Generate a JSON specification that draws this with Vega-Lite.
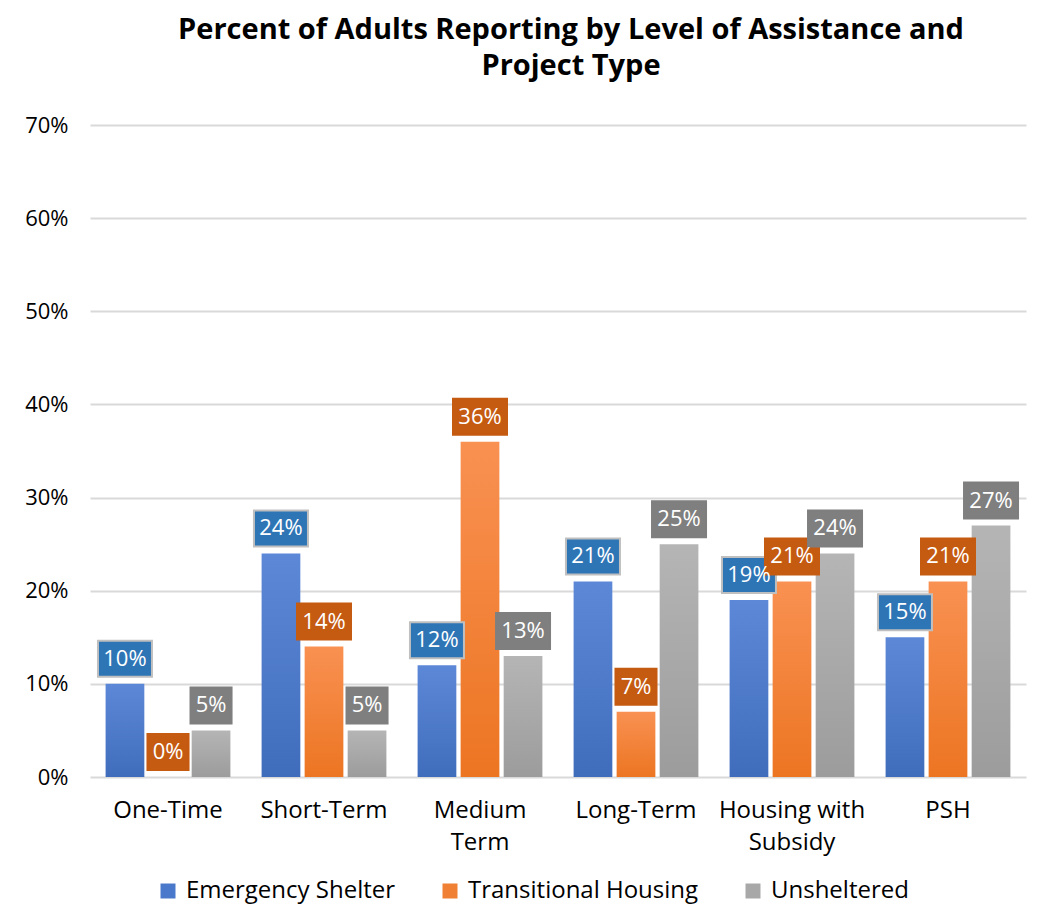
{
  "$schema": "https://vega.github.io/schema/vega-lite/v6.json",
  "width": 936,
  "height": 652,
  "autosize": {"type": "none"},
  "padding": {"left": 90, "top": 125, "right": 15, "bottom": 145},
  "background": "white",
  "config": {"view": {"stroke": null}},
  "title": {
    "text": ["Percent of Adults Reporting by Level of Assistance and", "Project Type"],
    "font": "Open Sans",
    "fontSize": 29,
    "fontWeight": "bold",
    "color": "#000000",
    "lineHeight": 36,
    "offset": 33,
    "dx": 13,
    "anchor": "middle"
  },
  "data": {
    "values": [
      {"level": "One-Time", "project": "Emergency Shelter", "pct": 0.10},
      {"level": "One-Time", "project": "Transitional Housing", "pct": 0.00},
      {"level": "One-Time", "project": "Unsheltered", "pct": 0.05},
      {"level": "Short-Term", "project": "Emergency Shelter", "pct": 0.24},
      {"level": "Short-Term", "project": "Transitional Housing", "pct": 0.14},
      {"level": "Short-Term", "project": "Unsheltered", "pct": 0.05},
      {"level": "Medium Term", "project": "Emergency Shelter", "pct": 0.12},
      {"level": "Medium Term", "project": "Transitional Housing", "pct": 0.36},
      {"level": "Medium Term", "project": "Unsheltered", "pct": 0.13},
      {"level": "Long-Term", "project": "Emergency Shelter", "pct": 0.21},
      {"level": "Long-Term", "project": "Transitional Housing", "pct": 0.07},
      {"level": "Long-Term", "project": "Unsheltered", "pct": 0.25},
      {"level": "Housing with Subsidy", "project": "Emergency Shelter", "pct": 0.19},
      {"level": "Housing with Subsidy", "project": "Transitional Housing", "pct": 0.21},
      {"level": "Housing with Subsidy", "project": "Unsheltered", "pct": 0.24},
      {"level": "PSH", "project": "Emergency Shelter", "pct": 0.15},
      {"level": "PSH", "project": "Transitional Housing", "pct": 0.21},
      {"level": "PSH", "project": "Unsheltered", "pct": 0.27}
    ]
  },
  "encoding": {
    "x": {
      "field": "level",
      "type": "nominal",
      "sort": ["One-Time", "Short-Term", "Medium Term", "Long-Term", "Housing with Subsidy", "PSH"],
      "scale": {"paddingInner": 0.2, "paddingOuter": 0.1},
      "title": null,
      "axis": {
        "labelAngle": 0,
        "labelFont": "Open Sans",
        "labelFontSize": 24,
        "labelColor": "#000000",
        "labelPadding": 21,
        "labelLineHeight": 32,
        "ticks": false,
        "domain": false,
        "labelExpr": "datum.label == 'Medium Term' ? ['Medium', 'Term'] : datum.label == 'Housing with Subsidy' ? ['Housing with', 'Subsidy'] : datum.label"
      }
    },
    "xOffset": {
      "field": "project",
      "type": "nominal",
      "sort": ["Emergency Shelter", "Transitional Housing", "Unsheltered"],
      "scale": {"paddingInner": 0.1}
    },
    "y": {
      "field": "pct",
      "type": "quantitative",
      "scale": {"domain": [0, 0.7]},
      "title": null,
      "axis": {
        "values": [0, 0.1, 0.2, 0.3, 0.4, 0.5, 0.6, 0.7],
        "format": ".0%",
        "labelFont": "Open Sans",
        "labelFontSize": 22,
        "labelColor": "#000000",
        "labelPadding": 22,
        "ticks": false,
        "domain": false,
        "gridColor": "#D9D9D9",
        "gridWidth": 2
      }
    }
  },
  "layer": [
    {
      "mark": {"type": "bar", "opacity": 0},
      "encoding": {
        "color": {
          "field": "project",
          "type": "nominal",
          "scale": {
            "domain": ["Emergency Shelter", "Transitional Housing", "Unsheltered"],
            "range": ["#4A78CA", "#F08033", "#A8A8A8"]
          },
          "legend": {
            "title": null,
            "orient": "none",
            "legendX": 66,
            "legendY": 754,
            "direction": "horizontal",
            "symbolType": "square",
            "symbolSize": 225,
            "symbolStrokeWidth": 0,
            "symbolOpacity": 1,
            "labelFont": "Open Sans",
            "labelFontSize": 24,
            "labelColor": "#000000",
            "labelLimit": 400,
            "labelOffset": 6,
            "columnPadding": 42
          }
        }
      }
    },
    {
      "mark": {"type": "bar"},
      "encoding": {
        "fill": {
          "condition": [
            {
              "test": "datum.project === 'Emergency Shelter'",
              "value": {"gradient": "linear", "x1": 0, "y1": 0, "x2": 0, "y2": 1,
                "stops": [{"offset": 0, "color": "#5D88D7"}, {"offset": 1, "color": "#3F6DBC"}]}
            },
            {
              "test": "datum.project === 'Transitional Housing'",
              "value": {"gradient": "linear", "x1": 0, "y1": 0, "x2": 0, "y2": 1,
                "stops": [{"offset": 0, "color": "#F99152"}, {"offset": 1, "color": "#EC7522"}]}
            }
          ],
          "value": {"gradient": "linear", "x1": 0, "y1": 0, "x2": 0, "y2": 1,
            "stops": [{"offset": 0, "color": "#B5B5B5"}, {"offset": 1, "color": "#9C9C9C"}]}
        }
      }
    },
    {
      "mark": {"type": "point", "filled": true, "opacity": 1, "yOffset": -25, "strokeWidth": 2},
      "encoding": {
        "shape": {
          "condition": {"test": "datum.pct < 0.095", "value": "M-1.14,-1H1.14V1H-1.14Z"},
          "value": "M-1.5,-1H1.5V1H-1.5Z"
        },
        "size": {"value": 1296},
        "fill": {
          "field": "project",
          "type": "nominal",
          "scale": {
            "domain": ["Emergency Shelter", "Transitional Housing", "Unsheltered"],
            "range": ["#2E75B6", "#C55A11", "#7F7F7F"]
          },
          "legend": null
        },
        "stroke": {
          "field": "project",
          "type": "nominal",
          "scale": {
            "domain": ["Emergency Shelter", "Transitional Housing", "Unsheltered"],
            "range": ["#BFBFBF", "#C55A11", "#7F7F7F"]
          },
          "legend": null
        }
      }
    },
    {
      "mark": {"type": "text", "yOffset": -25, "baseline": "middle", "align": "center", "font": "Open Sans", "fontSize": 22, "color": "#FFFFFF"},
      "encoding": {
        "text": {"field": "pct", "type": "quantitative", "format": ".0%"}
      }
    }
  ]
}
